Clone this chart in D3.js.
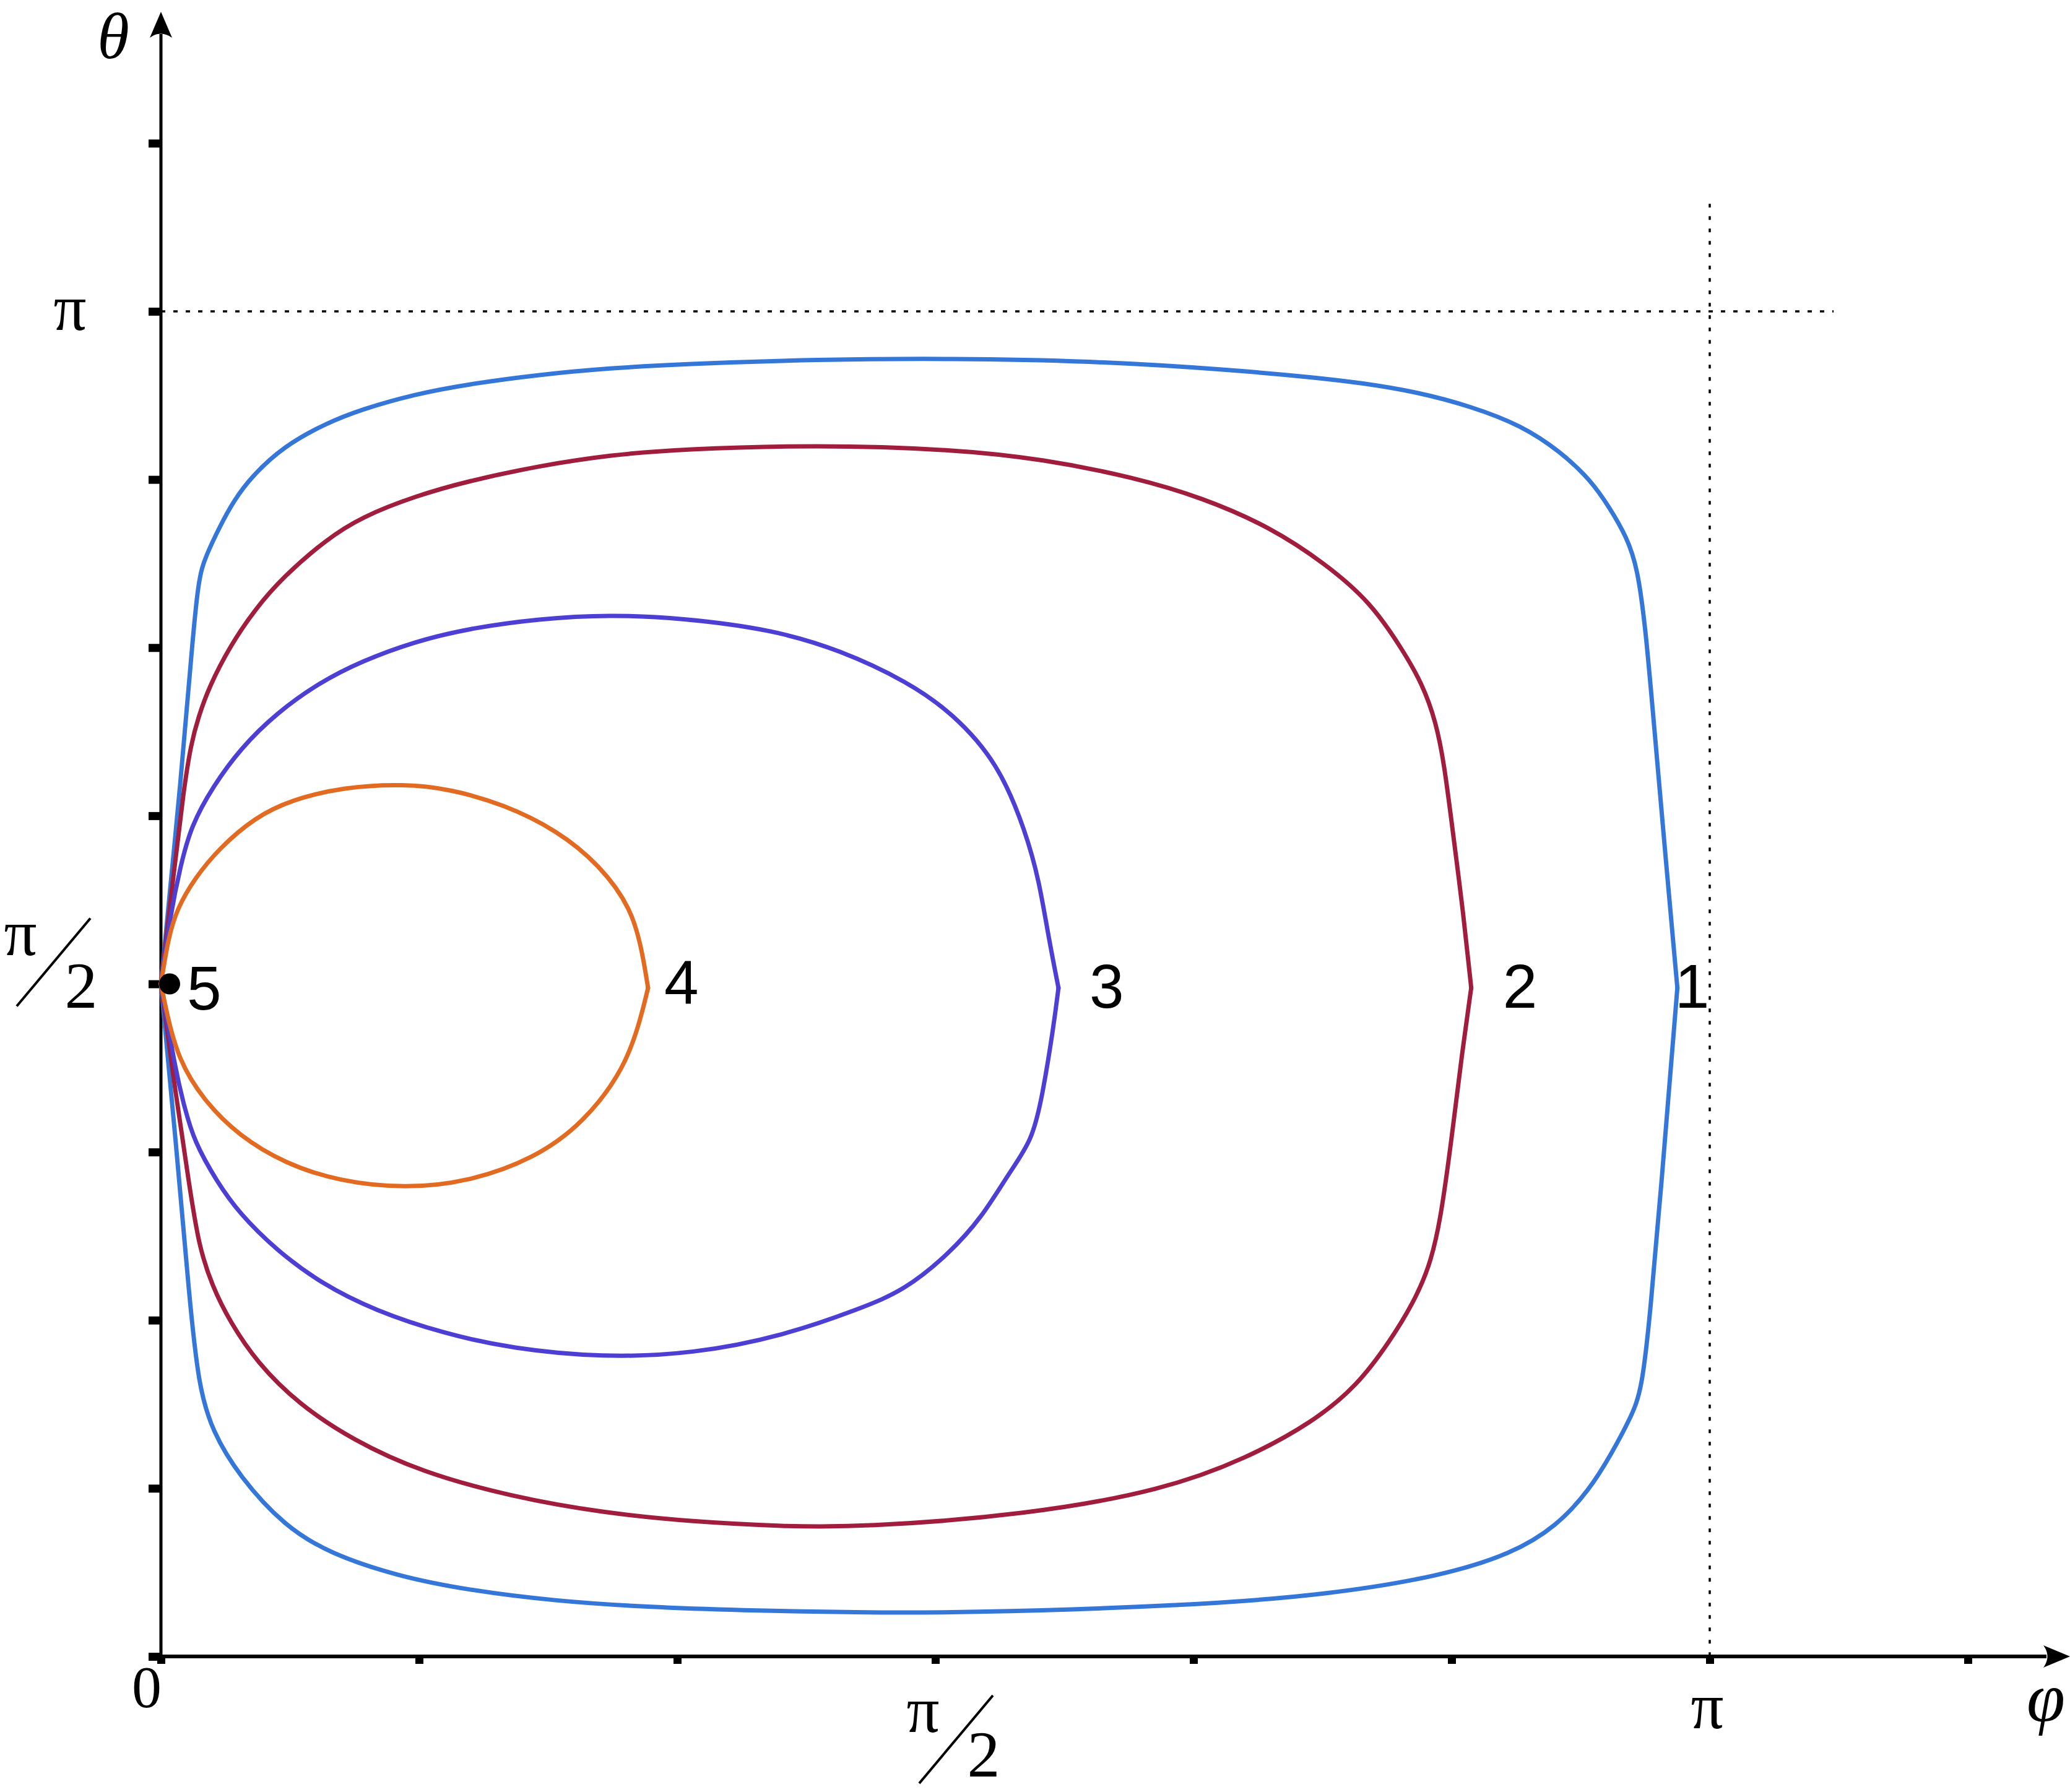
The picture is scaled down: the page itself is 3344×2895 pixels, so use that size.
<!DOCTYPE html>
<html>
<head>
<meta charset="utf-8">
<script src="https://cdn.jsdelivr.net/npm/d3@7"></script>
<style>
  html, body { margin: 0; padding: 0; background: #fff; }
  svg { display: block; }
</style>
</head>
<body>
<script>
// ---- data (angles in units of π) ----
const xTicks = [0, 1/6, 2/6, 3/6, 4/6, 5/6, 1, 7/6];
const yTicks = [0, 1/8, 2/8, 3/8, 4/8, 5/8, 6/8, 7/8, 1, 9/8];
const xTickLabels = [{v: 0, t: "0"}, {v: 0.5, t: "frac"}, {v: 1, t: "π"}];
const yTickLabels = [{v: 0.5, t: "frac"}, {v: 1, t: "π"}];
const guideExtent = 1.08;

const curveNames = ["1", "2", "3", "4"];
const curveColors = ["#3477d9", "#a01d3d", "#4e3fd4", "#e26b21"];

const upper1 = [[0,0.5],[0.0138,0.6625],[0.0195,0.7433],[0.0241,0.8013],[0.0287,0.8174],[0.0379,0.8399],[0.0471,0.8594],[0.0585,0.8772],[0.0792,0.8997],[0.1067,0.9169],[0.1296,0.9272],[0.164,0.9385],[0.1985,0.9459],[0.2443,0.953],[0.2902,0.9578],[0.3356,0.9608],[0.4235,0.9643],[0.5114,0.965],[0.5993,0.9632],[0.6872,0.9569],[0.7458,0.9508],[0.7751,0.9468],[0.8107,0.9402],[0.8464,0.9292],[0.8786,0.9151],[0.9035,0.8958],[0.9231,0.8747],[0.9356,0.8536],[0.9463,0.8324],[0.9534,0.8096],[0.9588,0.762],[0.9641,0.6916],[0.9713,0.5966],[0.9791,0.497]];
const lower1 = [[0,0.5],[0.0096,0.3834],[0.0184,0.2654],[0.0243,0.2013],[0.033,0.1676],[0.0506,0.1339],[0.0799,0.0967],[0.1092,0.0764],[0.1532,0.0596],[0.1971,0.0495],[0.2557,0.041],[0.3143,0.0367],[0.3729,0.0343],[0.4515,0.0327],[0.5121,0.0322],[0.6655,0.0377],[0.7547,0.0461],[0.826,0.0596],[0.8724,0.0764],[0.901,0.0967],[0.9223,0.1237],[0.9366,0.1507],[0.9491,0.1777],[0.9562,0.1979],[0.9616,0.2553],[0.9687,0.3497],[0.9758,0.4509],[0.9791,0.497]];

const upper2 = [[0,0.5],[0.0081,0.5809],[0.0149,0.6464],[0.0195,0.6787],[0.0241,0.6981],[0.031,0.7207],[0.0447,0.7513],[0.0608,0.7787],[0.0792,0.8029],[0.1067,0.8304],[0.1296,0.8472],[0.164,0.8626],[0.1984,0.8739],[0.2443,0.8852],[0.2902,0.8933],[0.3356,0.8975],[0.4235,0.9008],[0.5114,0.8975],[0.57,0.8901],[0.6286,0.8765],[0.6726,0.8614],[0.7165,0.8395],[0.7517,0.8125],[0.781,0.784],[0.8019,0.748],[0.8143,0.7233],[0.8232,0.6951],[0.8286,0.6634],[0.834,0.6142],[0.8411,0.5508],[0.846,0.497]];
const lower2 = [[0,0.5],[0.0096,0.4172],[0.0184,0.3497],[0.0243,0.3059],[0.033,0.2755],[0.0447,0.2485],[0.0623,0.2182],[0.0887,0.1878],[0.1239,0.1608],[0.1678,0.1372],[0.2264,0.1187],[0.285,0.1068],[0.3436,0.1001],[0.4022,0.0967],[0.4515,0.096],[0.5585,0.1052],[0.6476,0.1237],[0.7012,0.1473],[0.7439,0.1743],[0.7725,0.2013],[0.7939,0.235],[0.8082,0.262],[0.8189,0.289],[0.826,0.3227],[0.8332,0.3834],[0.8403,0.4509],[0.846,0.497]];

const upper3 = [[0,0.5],[0.0058,0.5497],[0.0127,0.5883],[0.0195,0.6174],[0.0333,0.6464],[0.0517,0.6755],[0.0746,0.7013],[0.1021,0.7239],[0.1296,0.74],[0.164,0.7546],[0.1984,0.7642],[0.2443,0.7716],[0.2902,0.7745],[0.3356,0.772],[0.3942,0.7636],[0.4382,0.7484],[0.4821,0.7247],[0.5114,0.7011],[0.5407,0.664],[0.5583,0.6134],[0.5671,0.5763],[0.5729,0.5359],[0.5795,0.497]];
const lower3 = [[0,0.5],[0.0096,0.434],[0.0155,0.4071],[0.0213,0.3834],[0.036,0.3531],[0.0506,0.3295],[0.0741,0.3025],[0.1034,0.2772],[0.1385,0.2569],[0.1825,0.2401],[0.2264,0.2289],[0.285,0.2222],[0.3436,0.2249],[0.4022,0.2384],[0.4515,0.2586],[0.48,0.2721],[0.5086,0.2991],[0.5299,0.3261],[0.5477,0.3598],[0.5625,0.3834],[0.5692,0.4172],[0.5763,0.4678],[0.5795,0.497]];

const upper4 = [[0,0.5],[0.0046,0.5335],[0.0104,0.5561],[0.0218,0.5786],[0.0379,0.6012],[0.0608,0.6238],[0.0837,0.6367],[0.1181,0.6464],[0.1571,0.6487],[0.187,0.6448],[0.2213,0.6335],[0.2558,0.6142],[0.2833,0.5884],[0.3039,0.5561],[0.3108,0.5238],[0.3145,0.497]];
const lower4 = [[0,0.5],[0.0037,0.4784],[0.0111,0.4442],[0.0272,0.4138],[0.0506,0.3868],[0.0799,0.3666],[0.1151,0.3531],[0.1576,0.348],[0.1971,0.3524],[0.2411,0.37],[0.2733,0.397],[0.2996,0.4374],[0.3099,0.4746],[0.3145,0.497]];

const point5 = [0.0056, 0.5];
const point5Name = "5";

// ---- layout ----
const W = 3344, H = 2895;
const x = d3.scaleLinear().domain([0, 1]).range([260, 2762]);
const y = d3.scaleLinear().domain([0, 1]).range([2676, 503]);
const axisX = x(0), axisY = y(0);

const svg = d3.select("body").append("svg").attr("width", W).attr("height", H)
  .attr("viewBox", `0 0 ${W} ${H}`);

// guides (dotted)
svg.append("line").attr("x1", x(0)).attr("x2", x(guideExtent)).attr("y1", y(1)).attr("y2", y(1))
  .attr("stroke", "#000").attr("stroke-width", 3.5).attr("stroke-dasharray", "7,13");
svg.append("line").attr("x1", x(1)).attr("x2", x(1)).attr("y1", y(guideExtent)).attr("y2", y(0))
  .attr("stroke", "#000").attr("stroke-width", 3.5).attr("stroke-dasharray", "6,14");

// ticks
const gx = svg.append("g").attr("transform", `translate(0,${axisY})`)
  .call(d3.axisBottom(x).tickValues(xTicks).tickSize(12).tickFormat(""));
gx.select(".domain").remove();
gx.selectAll(".tick line").attr("stroke", "#000").attr("stroke-width", 13);

const gy = svg.append("g").attr("transform", `translate(${axisX},0)`)
  .call(d3.axisLeft(y).tickValues(yTicks).tickSize(20).tickFormat(""));
gy.select(".domain").remove();
gy.selectAll(".tick line").attr("stroke", "#000").attr("stroke-width", 13);

// axis lines with arrows
svg.append("line").attr("x1", axisX - 3).attr("x2", 3306).attr("y1", axisY).attr("y2", axisY)
  .attr("stroke", "#000").attr("stroke-width", 6);
svg.append("line").attr("x1", axisX).attr("x2", axisX).attr("y1", axisY + 3).attr("y2", 55)
  .attr("stroke", "#000").attr("stroke-width", 5);
svg.append("path")
  .attr("d", `M3344,${axisY} L3301,${axisY - 18} Q3314,${axisY} 3301,${axisY + 18} Z`)
  .attr("fill", "#000");
svg.append("path")
  .attr("d", `M${axisX},19 L${axisX - 18},61 Q${axisX},48 ${axisX + 18},61 Z`)
  .attr("fill", "#000");

// tick labels
const serif = "'Liberation Serif', 'Times New Roman', serif";
function fraction(g, cx, by, dy2) {
  g.append("text").attr("x", cx).attr("y", by).attr("text-anchor", "middle")
    .attr("font-family", serif).attr("font-size", 105).text("π");
  g.append("line").attr("x1", cx + 113).attr("y1", by - 59).attr("x2", cx - 6).attr("y2", by + 83)
    .attr("stroke", "#000").attr("stroke-width", 4);
  g.append("text").attr("x", cx + 98).attr("y", by + dy2).attr("text-anchor", "middle")
    .attr("font-family", serif).attr("font-size", 106).text("2");
}
const labels = svg.append("g").attr("fill", "#000");
xTickLabels.forEach(d => {
  if (d.t === "frac") fraction(labels, x(d.v) - 20, axisY + 122, 72);
  else if (d.t === "0") labels.append("text").attr("x", x(d.v) - 23).attr("y", axisY + 82)
    .attr("text-anchor", "middle").attr("font-family", serif).attr("font-size", 96).text(d.t);
  else labels.append("text").attr("x", x(d.v) - 4).attr("y", axisY + 116)
    .attr("text-anchor", "middle").attr("font-family", serif).attr("font-size", 105).text(d.t);
});
yTickLabels.forEach(d => {
  if (d.t === "frac") fraction(labels, axisX - 227, y(d.v) - 47, 85);
  else labels.append("text").attr("x", axisX - 147).attr("y", y(d.v) + 30)
    .attr("text-anchor", "middle").attr("font-family", serif).attr("font-size", 105).text(d.t);
});

// axis titles
labels.append("text").attr("x", 183).attr("y", 94).attr("text-anchor", "middle")
  .attr("font-family", serif).attr("font-style", "italic").attr("font-size", 105).text("θ");
labels.append("text").attr("x", 3305).attr("y", 2780).attr("text-anchor", "middle")
  .attr("font-family", serif).attr("font-style", "italic").attr("font-size", 112).text("φ");

// curves
const line = d3.line().x(d => x(d[0])).y(d => y(d[1])).curve(d3.curveBasis);
const curves = [[upper1, lower1], [upper2, lower2], [upper3, lower3], [upper4, lower4]];
const cg = svg.append("g").attr("fill", "none").attr("stroke-width", 7)
  .attr("stroke-linecap", "round").attr("stroke-linejoin", "round");
curves.forEach((pair, i) => {
  pair.forEach(pts => {
    cg.append("path").attr("d", line(pts)).attr("stroke", curveColors[i]);
  });
});

// point 5
svg.append("circle").attr("cx", x(point5[0])).attr("cy", y(point5[1])).attr("r", 17).attr("fill", "#000");

// curve labels
const sans = "'Liberation Sans', Arial, sans-serif";
const labelDx = [-4, 51, 50, 26];
curves.forEach((pair, i) => {
  const tip = pair[0][pair[0].length - 1];
  labels.append("text").attr("x", x(tip[0]) + labelDx[i]).attr("y", y(tip[1]) + (i === 3 ? 26 : 32))
    .attr("font-family", sans).attr("font-size", 100).text(curveNames[i]);
});
labels.append("text").attr("x", x(point5[0]) + 28).attr("y", y(point5[1]) + 41)
  .attr("font-family", sans).attr("font-size", 100).text(point5Name);
</script>
</body>
</html>
